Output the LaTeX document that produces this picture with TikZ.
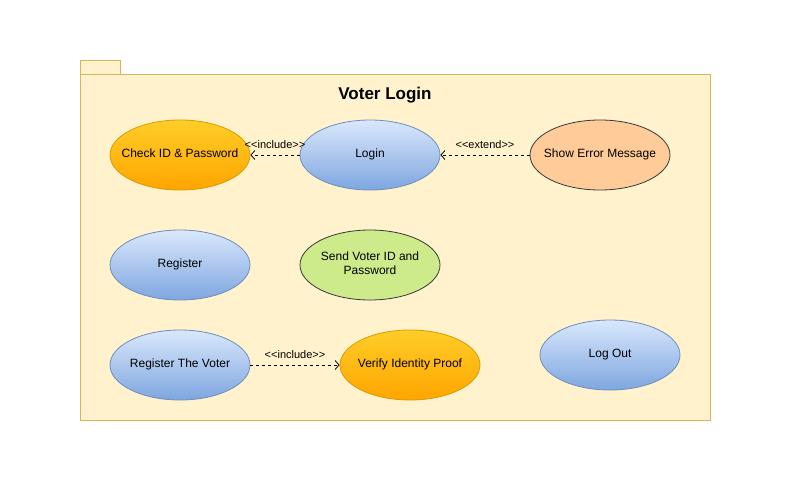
\documentclass[tikz,border=0pt]{standalone}
\usepackage{fontspec}
\setmainfont{Liberation Sans}
\usetikzlibrary{shapes.geometric,arrows.meta}
\definecolor{pkgfill}{HTML}{FFF2CC}
\definecolor{pkgline}{HTML}{D6B656}
\definecolor{orTop}{HTML}{FFCD28}
\definecolor{orBot}{HTML}{FFA500}
\definecolor{orLine}{HTML}{D79B00}
\definecolor{blTop}{HTML}{DAE8FC}
\definecolor{blBot}{HTML}{7EA6E0}
\definecolor{blLine}{HTML}{6C8EBF}
\definecolor{peach}{HTML}{FFCC99}
\definecolor{lime}{HTML}{CDEB8B}
\definecolor{darkLine}{HTML}{36393D}
\newcommand\uctext[1]{\raisebox{-1.5pt}{\makebox[0pt]{\begin{tabular}{@{}c@{}}#1\end{tabular}}}}
\tikzset{
  uc/.style={ellipse, minimum width=140pt, minimum height=70pt, inner sep=0pt, font=\fontsize{12}{14}\selectfont, line width=0.8pt},
  ucorange/.style={uc, draw=orLine, top color=orTop, bottom color=orBot},
  ucblue/.style={uc, draw=blLine, top color=blTop, bottom color=blBot},
  ucpeach/.style={uc, draw=darkLine, fill=peach},
  uclime/.style={uc, draw=darkLine, fill=lime},
  dep/.style={dashed, line width=0.8pt, -{Straight Barb[length=4pt,width=9pt]}},
  deplabel/.style={font=\fontsize{11}{13}\selectfont, inner sep=1pt},
}
\begin{document}
\begin{tikzpicture}[x=1pt,y=-1pt]
\useasboundingbox (0,0) rectangle (800,500);
\fill[white] (0,0) rectangle (800,500);
% package
\draw[pkgline, fill=pkgfill, line width=0.8pt] (80,60) rectangle (120,74);
\draw[pkgline, fill=pkgfill, line width=0.8pt] (80,74) rectangle (710,420);
\node[font=\fontsize{17}{20}\selectfont\bfseries] (title) at (385,95) {Voter Login};
% use cases
\node[ucorange] (check) at (180,155) {\uctext{Check ID \& Password}};
\node[ucblue] (login) at (370,155) {\uctext{Login}};
\node[ucpeach] (error) at (600,155) {\uctext{Show Error Message}};
\node[ucblue] (register) at (180,265) {\uctext{Register}};
\node[uclime] (send) at (370,265) {\uctext{Send Voter ID and\\Password}};
\node[ucblue] (regvoter) at (180,365) {\uctext{Register The Voter}};
\node[ucorange] (verify) at (410,365) {\uctext{Verify Identity Proof}};
\node[ucblue] (logout) at (610,355) {\uctext{Log Out}};
% relations
\draw[dep] (login) -- (check);
\draw[dep] (error) -- (login);
\draw[dep] (regvoter) -- (verify);
\node[deplabel] (l1) at (275,145) {<{}<include>{}>};
\node[deplabel] (l2) at (485,145) {<{}<extend>{}>};
\node[deplabel] (l3) at (295,355) {<{}<include>{}>};
\end{tikzpicture}
\end{document}
